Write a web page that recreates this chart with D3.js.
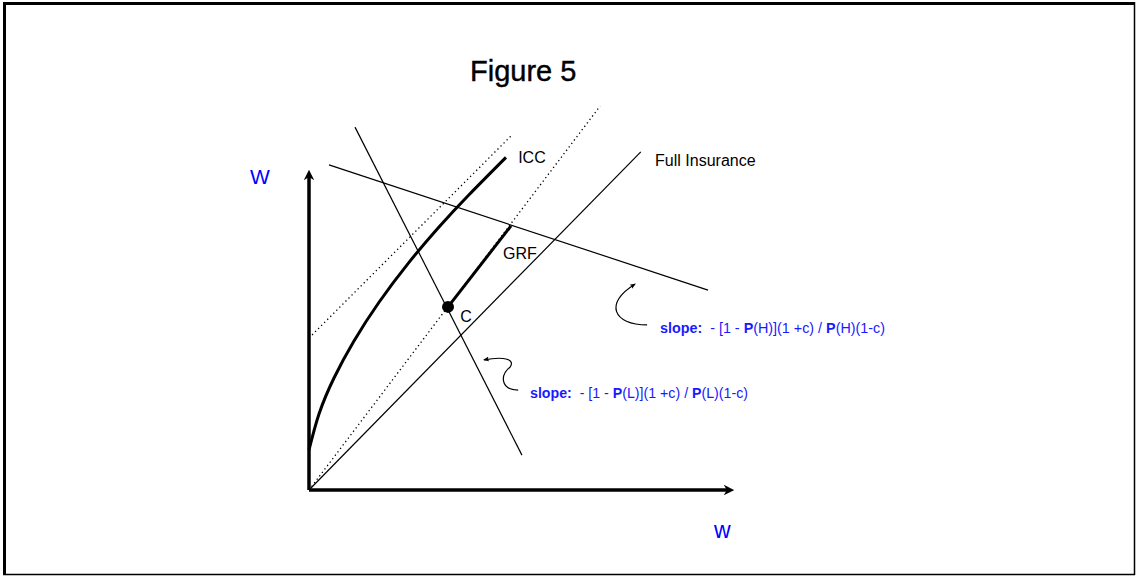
<!DOCTYPE html>
<html>
<head>
<meta charset="utf-8">
<script src="https://cdn.jsdelivr.net/npm/d3@7"></script>
<style>
html,body{margin:0;padding:0;background:#fff;}
svg{display:block;font-family:"Liberation Sans",Arial,sans-serif;}
</style>
</head>
<body>
<svg id="chart" width="1136" height="576"></svg>
<script>
// ---- data (chart units) ----
const axisExtent = [100, 75];                 // w max, W max
const fullInsurance = [[0, 0], [79, 80.5]];
const originRay = [[0, 0], [69.3, 91.4]];      // dotted ray through C
const grf = [[33.1, 43.6], [48.1, 62.9]];      // GRF segment
const upperDotted = [[0, 36.2], [48.3, 84.5]];
const icc = [[0, 9.52], [2.38, 18.1], [5.95, 26.67], [10.71, 35.48], [16.67, 44.7], [23.81, 54.2], [30.95, 62.62], [38.1, 70.3], [46.9, 79.2]];
const lowRiskLine = [[10.95, 86.4], [50.7, 8.3]];
const highRiskLine = [[4.76, 77.4], [95, 47.6]];
const pointC = [33.1, 43.6];
const arrowH = [[80.5, 39.3], [72.4, 39.3], [70.2, 44.5], [77.6, 49.0]];
const arrowL = [[49.8, 23.8], [45.5, 23.8], [45.5, 27.4], [47.9, 29.3], [49.1, 31.0], [46.7, 31.9], [41.7, 31.0]];
const lineLabels = ["ICC", "Full Insurance", "GRF", "C"];
const lineLabelPos = [[49.8, 77.8], [82.4, 77.1], [46.2, 55.0], [36.0, 40.0]];
const axisLabels = ["W", "w"];
const slopeH = ["slope:", "  - [1 - ", "P", "(H)](1 +c) / ", "P", "(H)(1-c)"];
const slopeL = ["slope:", "  - [1 - ", "P", "(L)](1 +c) / ", "P", "(L)(1-c)"];

// ---- scales ----
const x = d3.scaleLinear().domain([0, 100]).range([309, 729]);
const y = d3.scaleLinear().domain([0, 100]).range([490, 70]);

const svg = d3.select("#chart");

// frame
svg.append("line").attr("x1", 3).attr("y1", 3.5).attr("x2", 1135).attr("y2", 3.5).attr("stroke", "#000").attr("stroke-width", 3);
svg.append("line").attr("x1", 4.5).attr("y1", 2).attr("x2", 4.5).attr("y2", 575).attr("stroke", "#000").attr("stroke-width", 3);
svg.append("line").attr("x1", 1134.5).attr("y1", 2).attr("x2", 1134.5).attr("y2", 575).attr("stroke", "#000").attr("stroke-width", 1.5);
svg.append("line").attr("x1", 3).attr("y1", 574.5).attr("x2", 1135).attr("y2", 574.5).attr("stroke", "#000").attr("stroke-width", 1.5);

const defs = svg.append("defs");
defs.append("marker").attr("id", "axArrow").attr("viewBox", "0 0 10 10").attr("refX", 5).attr("refY", 5)
  .attr("markerWidth", 3).attr("markerHeight", 3).attr("orient", "auto").attr("markerUnits", "strokeWidth")
  .append("path").attr("d", "M0,0 L10,5 L0,10 L3,5 Z").attr("fill", "#000");
defs.append("marker").attr("id", "smArrow").attr("viewBox", "0 0 10 10").attr("refX", 8).attr("refY", 5)
  .attr("markerWidth", 6).attr("markerHeight", 6).attr("orient", "auto").attr("markerUnits", "userSpaceOnUse")
  .append("path").attr("d", "M0,1 L10,5 L0,9 L2,5 Z").attr("fill", "#000");

const line = d3.line().x(d => x(d[0])).y(d => y(d[1]));

// axes
svg.append("path").attr("d", line([[0, 0], [0, axisExtent[1]]])).attr("stroke", "#000").attr("stroke-width", 3.5).attr("fill", "none").attr("marker-end", "url(#axArrow)");
svg.append("path").attr("d", line([[0, 0], [axisExtent[0], 0]])).attr("stroke", "#000").attr("stroke-width", 3.5).attr("fill", "none").attr("marker-end", "url(#axArrow)");

// dotted lines
[originRay, upperDotted].forEach(d => {
  svg.append("path").attr("d", line(d)).attr("stroke", "#000").attr("stroke-width", 1.3)
    .attr("stroke-dasharray", "1.3,3").attr("fill", "none");
});

// thin lines
[fullInsurance, lowRiskLine, highRiskLine].forEach(d => {
  svg.append("path").attr("d", line(d)).attr("stroke", "#000").attr("stroke-width", 1.2).attr("fill", "none");
});

// ICC curve
const curveLine = d3.line().x(d => x(d[0])).y(d => y(d[1])).curve(d3.curveNatural);
svg.append("path").attr("d", curveLine(icc)).attr("stroke", "#000").attr("stroke-width", 3).attr("fill", "none");

// GRF
svg.append("path").attr("d", line(grf)).attr("stroke", "#000").attr("stroke-width", 3).attr("fill", "none");

// point C
svg.append("circle").attr("cx", x(pointC[0])).attr("cy", y(pointC[1])).attr("r", 6).attr("fill", "#000");

// annotation arrows (cubic bezier chains)
const bez = pts => {
  let s = `M${x(pts[0][0])},${y(pts[0][1])}`;
  for (let i = 1; i + 2 <= pts.length - 1; i += 3) {
    s += ` C${x(pts[i][0])},${y(pts[i][1])} ${x(pts[i + 1][0])},${y(pts[i + 1][1])} ${x(pts[i + 2][0])},${y(pts[i + 2][1])}`;
  }
  return s;
};
[arrowH, arrowL].forEach(p => {
  svg.append("path").attr("d", bez(p)).attr("stroke", "#000").attr("stroke-width", 1.2).attr("fill", "none").attr("marker-end", "url(#smArrow)");
});

// title
svg.append("text").attr("x", 470).attr("y", 81).attr("font-size", 29).attr("fill", "#000")
  .attr("stroke", "#000").attr("stroke-width", 0.4).text("Figure 5");

// line labels
lineLabels.forEach((t, i) => {
  svg.append("text").attr("x", x(lineLabelPos[i][0])).attr("y", y(lineLabelPos[i][1]))
    .attr("font-size", 16).attr("fill", "#000").text(t);
});

// axis labels
svg.append("text").attr("x", 250).attr("y", 184).attr("font-size", 21).attr("fill", "#0000ff").text(axisLabels[0]);
svg.append("text").attr("x", 714).attr("y", 538).attr("font-size", 23).attr("fill", "#0000ff").text(axisLabels[1]);

// slope annotations
function slopeText(parts, px, py, len) {
  const t = svg.append("text").attr("x", px).attr("y", py).attr("font-size", 14.5).attr("fill", "#1a1aff")
    .attr("xml:space", "preserve").style("white-space", "pre")
    .attr("textLength", len).attr("lengthAdjust", "spacingAndGlyphs");
  parts.forEach((p, i) => {
    t.append("tspan").attr("font-weight", (i === 0 || p === "P") ? "bold" : "normal").text(p);
  });
}
slopeText(slopeH, 660, 333, 225);
slopeText(slopeL, 530, 398, 218);
</script>
</body>
</html>
